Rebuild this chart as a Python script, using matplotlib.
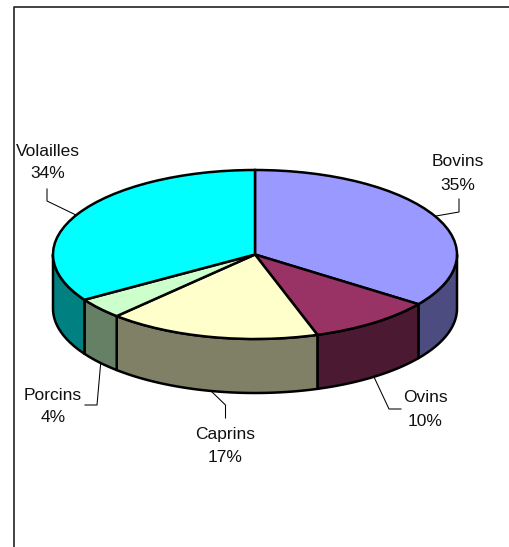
import numpy as np
import matplotlib
matplotlib.use("Agg")
import matplotlib.pyplot as plt

plt.rcParams['font.family'] = ['Liberation Sans', 'DejaVu Sans']

categories = ["Bovins", "Ovins", "Caprins", "Porcins", "Volailles"]
shares = [35, 10, 17, 4, 34]
top_colors = ["#9999FF", "#993366", "#FFFFCC", "#CCFFCC", "#00FFFF"]
side_colors = ["#4C4C80", "#4C1933", "#808066", "#668066", "#008080"]

W, H = 510, 547
CX, CY, RX, RY, DEPTH = 255, 254.5, 202, 84.5, 54
EDGE = 1.8

fig = plt.figure(figsize=(W / 100, H / 100), dpi=100, facecolor="white")
ax = fig.add_axes([0, 0, 1, 1])

# Top face: a regular pie squashed into an ellipse by the axes scale
ax.pie(shares, startangle=90, counterclock=False, colors=top_colors,
       wedgeprops=dict(edgecolor="black", linewidth=EDGE, zorder=3))
ax.set_aspect("auto")
ax.set_xlim((0 - CX) / RX, (W - CX) / RX)
ax.set_ylim((CY - H) / RY, (CY - 0) / RY)


def px(x, y):
    return (x - CX) / RX, (CY - y) / RY


# Side walls: visible where the rim faces the viewer (90..270 deg clockwise from top)
depth_units = DEPTH / RY
fractions = np.cumsum([0] + shares) / sum(shares) * 360
for start, stop, col in zip(fractions[:-1], fractions[1:], side_colors):
    a, b = max(start, 90), min(stop, 270)
    if a >= b:
        continue
    t = np.radians(np.linspace(a, b, 60))
    xs = np.sin(t)
    ys = np.cos(t)
    ax.fill(np.r_[xs, xs[::-1]], np.r_[ys, ys[::-1] - depth_units],
            facecolor=col, edgecolor="black", linewidth=EDGE, zorder=2,
            joinstyle="round")

# Labels and leader lines (pixel layout)
label_pos = {"Bovins": (458, 162), "Ovins": (425, 398), "Caprins": (225, 434),
             "Porcins": (53, 395), "Volailles": (47.5, 151)}
leaders = {"Bovins": [(459, 199), (459, 212), (436, 216)],
           "Ovins": [(374, 377), (389, 409), (401, 409)],
           "Caprins": [(211, 391), (225.5, 405), (225.5, 418)],
           "Porcins": [(100.7, 363), (97, 405), (85, 405)],
           "Volailles": [(47, 189), (47, 201), (76, 215)]}
for name, share in zip(categories, shares):
    x, y = label_pos[name]
    ax.text(*px(x, y), name, ha="center", va="center", fontsize=12.5, color="#111111", zorder=5)
    ax.text(*px(x, y + 23), f"{share}%", ha="center", va="center", fontsize=12.5, color="#111111", zorder=5)
    pts = np.array([px(*p) for p in leaders[name]])
    ax.plot(pts[:, 0], pts[:, 1], color="black", linewidth=0.75, zorder=1)

# Chart frame: only top and left edges fall inside the picture
frame = np.array([px(13.5, H), px(13.5, 7), px(W, 7)])
ax.plot(frame[:, 0], frame[:, 1], color="#222222", linewidth=1.2, zorder=1, clip_on=False)

fig.savefig("out.png", dpi=100)
